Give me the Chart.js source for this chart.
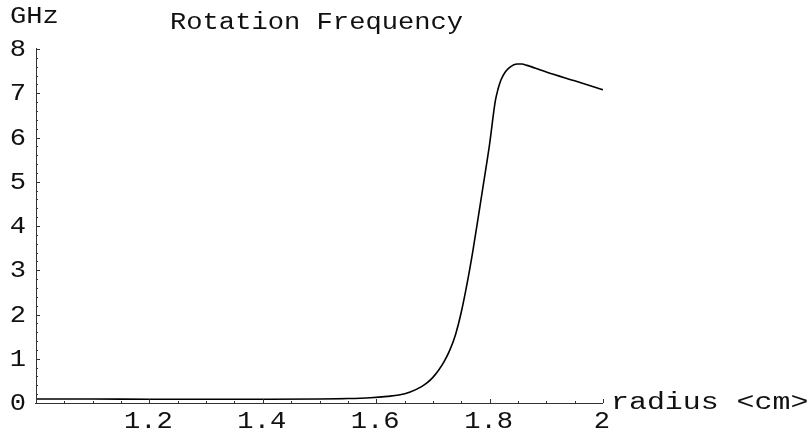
<!DOCTYPE html>
<html lang="en">
<head>
    <meta charset="UTF-8">
    <title>Rotation Frequency</title>
    <script src="https://cdn.jsdelivr.net/npm/chart.js@4.4.0/dist/chart.umd.min.js"></script>
    <style>
        html, body { margin:0; padding:0; background:#fff; }
        #wrap { width:807px; height:438px; }
    </style>
</head>
<body>
<div id="wrap"><canvas id="rotChart" width="807" height="438"></canvas></div>
<script>
    // values
    const radius = [1.0, 1.1, 1.2, 1.3, 1.4, 1.5, 1.55, 1.59, 1.62, 1.64, 1.66, 1.68, 1.69, 1.70, 1.71,
                    1.72, 1.73, 1.74, 1.75, 1.76, 1.77, 1.78, 1.79, 1.80, 1.81, 1.815, 1.82, 1.8276,
                    1.835, 1.842, 1.849, 1.857, 1.866, 1.88, 1.9, 1.95, 2.0];
    const freq = [0.09, 0.09, 0.085, 0.085, 0.085, 0.09, 0.1, 0.12, 0.15, 0.18, 0.25, 0.37, 0.46, 0.58, 0.74,
                  0.94, 1.2, 1.55, 2.05, 2.68, 3.4, 4.2, 5.02, 5.85, 6.82, 7.1, 7.3, 7.48,
                  7.58, 7.64, 7.66, 7.66, 7.63, 7.57, 7.48, 7.28, 7.08];
    const xTicks = [1.2, 1.4, 1.6, 1.8, 2];
    const yTicks = [0, 1, 2, 3, 4, 5, 6, 7, 8];

    const FAMILY = '"Liberation Mono", "Courier New", monospace';

    function txt(ctx, s, x, y, align, size, sx) {
        size = size || 23;
        sx = sx || 1.18; // text in the picture is wide
        ctx.save();
        ctx.font = size + 'px ' + FAMILY;
        ctx.textBaseline = 'alphabetic';
        const w = ctx.measureText(s).width * sx;
        let left = x;
        if (align === 'center') left = x - w / 2;
        if (align === 'right') left = x - w;
        ctx.translate(left, y);
        ctx.scale(sx, 1);
        ctx.textAlign = 'left';
        ctx.fillText(s, 0, 0);
        ctx.restore();
    }

    // mathematica style axes: ticks pointing inward
    const axesPlugin = {
        id: 'mmaAxes',
        afterDraw(chart) {
            const ctx = chart.ctx;
            const xs = chart.scales.x, ys = chart.scales.y;
            const x0 = xs.getPixelForValue(1), y0 = ys.getPixelForValue(0);
            const xEnd = xs.getPixelForValue(2), yTop = ys.getPixelForValue(8);
            ctx.save();
            ctx.strokeStyle = '#333';
            ctx.lineWidth = 1;
            ctx.beginPath();
            ctx.moveTo(x0 - 1, y0 + 0.5); ctx.lineTo(xEnd, y0 + 0.5);
            ctx.moveTo(x0 + 0.5, y0); ctx.lineTo(x0 + 0.5, yTop - 1);
            // x ticks every 0.05
            for (let i = 1; i <= 20; i++) {
                const v = 1 + i * 0.05;
                const px = Math.round(xs.getPixelForValue(v)) + 0.5;
                const len = (i % 4 === 0) ? 4 : 2;
                ctx.moveTo(px, y0); ctx.lineTo(px, y0 - len);
            }
            // y ticks every 0.2
            for (let i = 1; i <= 40; i++) {
                const v = i * 0.2;
                const py = Math.round(ys.getPixelForValue(v)) + 0.5;
                const len = (i % 5 === 0) ? 4 : 2;
                ctx.moveTo(x0, py); ctx.lineTo(x0 + len, py);
            }
            ctx.stroke();

            ctx.fillStyle = '#111';
            xTicks.forEach(v => txt(ctx, String(v), xs.getPixelForValue(v) - 1, y0 + 25, 'center'));
            yTicks.forEach(v => txt(ctx, String(v), x0 - 10, ys.getPixelForValue(v) + 7, 'right'));
            txt(ctx, 'GHz', 10, 23, 'left');
            txt(ctx, 'Rotation Frequency', 170, 29, 'left');
            txt(ctx, 'radius <cm>', 611, 409, 'left', 23, 1.3);
            ctx.restore();
        }
    };

    const points = radius.map((r, i) => ({ x: r, y: freq[i] }));

    new Chart(document.getElementById('rotChart').getContext('2d'), {
        type: 'line',
        data: {
            datasets: [{
                data: points,
                borderColor: '#000',
                borderWidth: 1.6,
                pointRadius: 0,
                fill: false,
                cubicInterpolationMode: 'monotone'
            }]
        },
        options: {
            responsive: false,
            animation: false,
            layout: { padding: { left: 36, right: 204, top: 49, bottom: 35 } },
            plugins: { legend: { display: false }, tooltip: { enabled: false } },
            scales: {
                x: { type: 'linear', min: 1, max: 2, display: false },
                y: { min: 0, max: 8, display: false }
            }
        },
        plugins: [axesPlugin]
    });
</script>
</body>
</html>
